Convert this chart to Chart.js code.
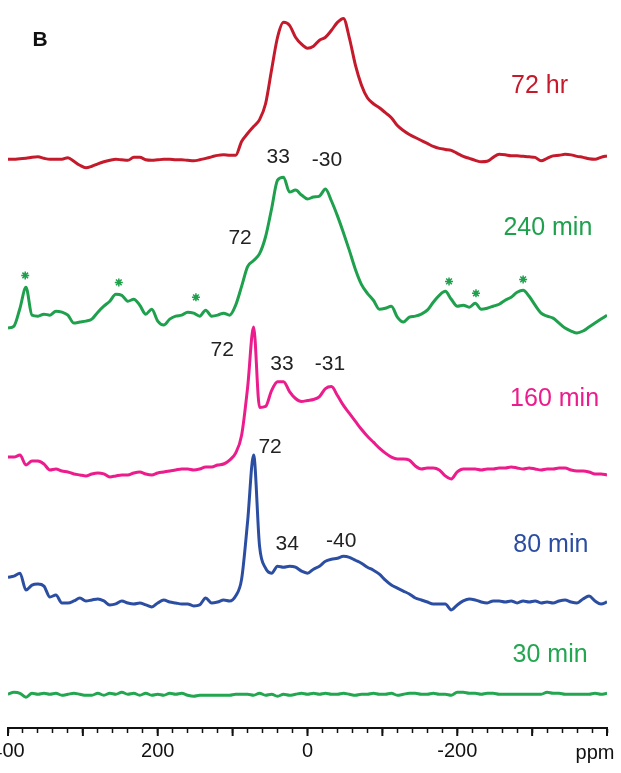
<!DOCTYPE html>
<html>
<head>
<meta charset="utf-8">
<title>NMR spectra</title>
<script src="https://cdn.jsdelivr.net/npm/chart.js@4.4.1/dist/chart.umd.min.js"></script>
<style>
  html, body { margin: 0; padding: 0; background: #fff; }
  #wrap { width: 621px; height: 773px; }
</style>
</head>
<body>
<div id="wrap"><canvas id="spectra" width="621" height="773"></canvas></div>
<script>
// chemical shift grid (ppm), shared by all traces
const ppm = [
  400, 392, 384, 376, 368, 360, 352, 344, 336, 328,
  320, 312, 304, 296, 288, 280, 272, 264, 256, 248,
  240, 232, 224, 216, 208, 200, 192, 184, 176, 168,
  160, 152, 144, 136, 128, 120, 112, 104, 96, 88,
  80, 72, 64, 56, 48, 40, 32, 24, 16, 8,
  0, -8, -16, -24, -32, -40, -48, -56, -64, -72,
  -80, -88, -96, -104, -112, -120, -128, -136, -144, -152,
  -160, -168, -176, -184, -192, -200, -208, -216, -224, -232,
  -240, -248, -256, -264, -272, -280, -288, -296, -304, -312,
  -320, -328, -336, -344, -352, -360, -368, -376, -384, -392,
  -400
];

const tickLabels = [400, 200, 0, -200];
const majorTicks = [400, 300, 200, 100, 0, -100, -200, -300, -400];

const seriesNames = ['72 hr', '240 min', '160 min', '80 min', '30 min'];
// vertical stacking offset of each trace
const offsets = [573, 413, 260, 128, 34];

// intensities above each trace's own baseline
const hr72 = [
  0, 0, 0.7, 1, 2, 2.5, 1, 0, 0, 0,
  1.7, -2, -6, -8.5, -7, -4.5, -2.5, -1, 0, -0.5,
  -1, 2, 2, -0.5, -1, -0.5, 0, 0, -0.5, -0.5,
  -1, -1.5, -0.5, 1, 2.5, 4, 4.5, 4, 4, 18,
  26, 33, 40, 56, 90, 123, 138, 135, 123, 116,
  112, 114, 120, 123, 130, 138, 142, 122, 95, 75,
  62, 56, 52, 47, 42, 34, 29, 25, 22, 19,
  16, 13, 11, 10, 9, 6, 3, 1, -1, -2.5,
  -2, 2, 5, 4.5, 3.5, 3.5, 3, 2.5, 2, -1.5,
  1, 3.5, 4, 5, 4.5, 3, 2, 0.5, 0, 2,
  3.5
];
const min240 = [
  -10, -8, 10, 31, 3, 2, 4, 3, 7, 6,
  3, -5, -4, -3, -1, 6, 12, 17, 24, 23,
  17, 19, 13, 4, 9, -3, -7, -1, 2, 3,
  6, 5, 2, 8, 2, 3, 5, 3, 13, 32,
  52, 58, 65, 82, 110, 139, 142, 127, 129, 124,
  120, 122, 123, 130, 118, 103, 86, 68, 49, 34,
  25, 18, 9, 10, 12, 1, -4, 1, 2, 4,
  8, 16, 23, 27, 19, 12, 13, 11, 15, 9,
  10, 12, 14, 18, 21, 26, 28, 22, 13, 5,
  2, 0, -5, -10, -13, -15, -13, -9, -5, -1,
  3
];
const min160 = [
  13, 13, 15, 5, 9, 9, 6, 0, 1, -1,
  -2, -4, -5, -6, -4, -3, -4, -7, -6, -5,
  -5, -3, -2, -4, -5, -3, -2, -1, 0, 1,
  1, 0, 1, 3, 3, 5, 6, 10, 17, 35,
  83, 144, 63, 64, 80, 89, 89, 79, 72, 69,
  70, 71, 74, 82, 84, 75, 65, 57, 49, 41,
  34, 28, 22, 17, 13, 11, 11, 10, 4, 1,
  2, 2, 0, -6, -9, -2, 1, 1, 1, 0,
  1, 1, 2, 2, 3, 2, 1, 2, 1, 0,
  1, 1, 2, 2, 0, -1, -1, -2, -4, -4,
  -5
];
const min80 = [
  24, 25, 28, 11, 16, 17, 15, 4, 6, -2,
  -2, 0, 3, 0, 1, 2, 0, -4, -3, 0,
  -2, -3, -2, -4, -6, -2, 1, -1, -2, -3,
  -3, -5, -4, 3, -2, -1, 1, 0, 5, 22,
  80, 147, 55, 33, 28, 35, 34, 35, 34, 30,
  28, 32, 35, 40, 42, 43, 45, 44, 41, 38,
  34, 31, 27, 21, 16, 13, 10, 7, 3, 1,
  -1, -3, -3, -3, -9, -4, 0, 2, 1, -1,
  -2, 0, 0, -1, 0, -2, 0, -1, 0, -2,
  -1, -2, 0, 1, -1, -2, 2, 5, 0, -3,
  -1
];
const min30 = [
  0, 2, 1, -3, 1, 0, 1, 0, 1, -1,
  0, 1, 0, -1, -1, 1, -1, 1, 0, 2,
  0, 1, -1, 1, -1, 0, -1, 1, 0, 1,
  -1, -2, -1, -1, -1, -1, -1, -1, 0, 0,
  0, -1, 1, -1, 0, -2, 0, -1, 0, 1,
  0, 1, 0, 1, 0, 0, 1, 0, -1, 0,
  0, 1, 0, 0, 1, -1, 0, 1, 1, 0,
  0, 1, 0, 0, -1, 2, 2, 1, 1, 0,
  1, 1, 0, 0, 0, 0, 0, 0, 0, 0,
  2, 1, 1, 0, 0, 0, 0, 0, 1, 0,
  1
];

// spinning side bands marked with * on the 240 min trace
const starPpm = [377, 252, 149, -189, -225, -288];
const starHeight = [43, 36, 21, 37, 25, 39];

const seriesColors = ['#c41a2b', '#1ea04c', '#ec1c8c', '#2b4ea2', '#22a650'];
const allSeries = [hr72, min240, min160, min80, min30];

// text placement (ppm, chart value)
const nameLabelPos = [
  { ppm: -310, y: 647 },
  { ppm: -321, y: 504 },
  { ppm: -330, y: 331 },
  { ppm: -325, y: 184 },
  { ppm: -324, y: 73 }
];
const peakLabels = [
  { text: '33', ppm: 39, y: 575 },
  { text: '-30', ppm: -26, y: 572 },
  { text: '72', ppm: 90, y: 494 },
  { text: '72', ppm: 114, y: 381 },
  { text: '33', ppm: 34, y: 367 },
  { text: '-31', ppm: -30, y: 367 },
  { text: '72', ppm: 50, y: 283 },
  { text: '34', ppm: 27, y: 185 },
  { text: '-40', ppm: -45, y: 188 }
];

const FONT = "'Liberation Sans', Arial, Helvetica, sans-serif";
Chart.defaults.font.family = FONT;

const datasets = allSeries.map((vals, s) => ({
  label: seriesNames[s],
  data: vals.map((v, i) => ({ x: ppm[i], y: offsets[s] + v })),
  borderColor: seriesColors[s],
  borderWidth: 3,
  pointRadius: 0,
  fill: false,
  cubicInterpolationMode: 'monotone'
}));

datasets.push({
  type: 'scatter',
  label: 'side bands',
  data: starPpm.map((p, i) => ({ x: p, y: offsets[1] + starHeight[i] })),
  pointStyle: 'star',
  pointRadius: 4,
  borderColor: seriesColors[1],
  borderWidth: 1.5
});

const textPlugin = {
  id: 'spectraText',
  afterDatasetsDraw(chart) {
    const { ctx, scales: { x, y } } = chart;
    ctx.save();
    ctx.textAlign = 'center';
    ctx.textBaseline = 'middle';

    ctx.fillStyle = '#111';
    ctx.font = 'bold 21px ' + FONT;
    ctx.fillText('B', x.getPixelForValue(357), y.getPixelForValue(693));

    ctx.font = '25px ' + FONT;
    nameLabelPos.forEach((p, s) => {
      ctx.fillStyle = seriesColors[s];
      ctx.fillText(seriesNames[s], x.getPixelForValue(p.ppm), y.getPixelForValue(p.y));
    });

    ctx.fillStyle = '#222';
    ctx.font = '21px ' + FONT;
    peakLabels.forEach(l => {
      ctx.fillText(l.text, x.getPixelForValue(l.ppm), y.getPixelForValue(l.y));
    });
    ctx.restore();
  },
  afterDraw(chart) {
    const { ctx, chartArea, scales: { x } } = chart;
    ctx.save();
    // longer ticks every 100 ppm
    ctx.strokeStyle = '#111';
    ctx.lineWidth = 2;
    majorTicks.forEach(v => {
      const px = x.getPixelForValue(v);
      ctx.beginPath();
      ctx.moveTo(px, chartArea.bottom);
      ctx.lineTo(px, chartArea.bottom + 8);
      ctx.stroke();
    });
    ctx.fillStyle = '#111';
    ctx.font = '20px ' + FONT;
    ctx.textAlign = 'center';
    ctx.textBaseline = 'alphabetic';
    ctx.fillText('ppm', x.getPixelForValue(-384), chartArea.bottom + 31);
    ctx.restore();
  }
};

new Chart(document.getElementById('spectra'), {
  type: 'line',
  data: { datasets },
  options: {
    responsive: false,
    animation: false,
    devicePixelRatio: 1,
    layout: { padding: { left: 8, right: 14, top: 0, bottom: 0 } },
    plugins: {
      legend: { display: false },
      tooltip: { enabled: false }
    },
    scales: {
      x: {
        type: 'linear',
        reverse: true,
        min: -400,
        max: 400,
        border: { display: true, color: '#111', width: 2 },
        grid: {
          drawOnChartArea: false,
          drawTicks: true,
          tickLength: 5,
          tickColor: '#111',
          tickWidth: 1.5
        },
        ticks: {
          stepSize: 20,
          autoSkip: false,
          maxRotation: 0,
          padding: 6,
          color: '#111',
          font: { size: 20 },
          callback: v => (tickLabels.includes(v) ? String(v) : '')
        },
        afterFit(scale) {
          scale.height = 45;
          scale.paddingLeft = 0;
          scale.paddingRight = 0;
        }
      },
      y: {
        display: false,
        min: 0,
        max: 728
      }
    }
  },
  plugins: [textPlugin]
});
</script>
</body>
</html>
